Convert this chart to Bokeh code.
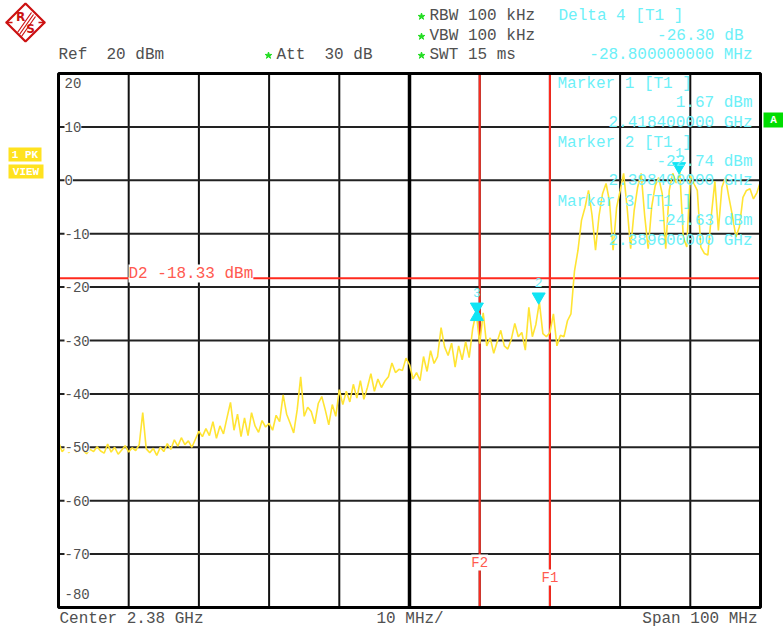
from bokeh.plotting import figure
from bokeh.models import Range1d, Label
from bokeh.core.properties import value
from bokeh.embed import file_html
from bokeh.resources import INLINE
import math

# ---------------- data ----------------
FREQ_START_MHZ = 2330.0
FREQ_STOP_MHZ = 2430.0
FREQ_STEP_MHZ = 0.5
REF_LEVEL_DBM = 20.0
BOTTOM_LEVEL_DBM = -80.0

LEVEL_2330 = [-49.0, -50.8, -50.2, -51.0, -49.6, -50.9, -49.8, -50.6, -51.2, -50.4,
              -50.8, -49.9, -50.7, -51.1, -49.4, -50.9, -50.0, -51.3, -50.5, -49.7]
LEVEL_2340 = [-50.9, -50.1, -50.6, -49.5, -43.5, -50.3, -51.0, -50.2, -51.5, -50.0,
              -50.8, -49.3, -50.4, -48.6, -49.8, -48.2, -49.5, -48.8, -50.0, -48.5]
LEVEL_2350 = [-47.0, -48.0, -46.5, -47.8, -45.2, -48.3, -46.0, -47.5, -44.5, -41.6,
              -46.8, -43.8, -48.0, -44.5, -47.8, -43.5, -46.0, -47.2, -45.0, -46.2]
LEVEL_2360 = [-45.5, -46.8, -44.0, -45.2, -40.2, -43.8, -45.5, -47.3, -43.0, -36.8,
              -44.2, -42.5, -43.3, -45.6, -41.8, -40.5, -43.0, -45.8, -42.0, -44.2]
LEVEL_2370 = [-39.2, -42.0, -39.5, -41.5, -38.2, -40.8, -37.5, -41.0, -38.8, -36.2,
              -39.5, -37.2, -38.8, -37.6, -36.8, -34.2, -36.0, -35.4, -35.6, -33.3]
LEVEL_2380 = [-34.5, -37.2, -36.0, -37.5, -33.0, -35.8, -31.9, -34.3, -33.0, -27.6,
              -31.2, -32.8, -30.5, -35.0, -31.0, -33.6, -30.2, -33.2, -27.8, -24.7]
LEVEL_2390 = [-30.6, -24.8, -31.0, -29.5, -32.4, -30.2, -28.1, -31.0, -31.6, -29.8,
              -26.8, -29.3, -28.5, -31.8, -23.8, -29.3, -27.0, -22.8, -28.7, -29.3]
LEVEL_2400 = [-28.5, -25.0, -31.0, -29.0, -29.3, -26.3, -25.0, -17.0, -13.1, -7.5,
              -5.1, -1.9, -6.5, -13.1, -6.6, -2.5, -0.6, -4.0, -13.1, -5.1]
LEVEL_2410 = [-2.0, 1.3, -5.1, -12.8, -5.7, -1.3, 1.3, -6.6, -12.8, -5.0,
              -1.0, 0.5, -2.5, -12.8, -1.9, 1.3, -0.5, 1.6, -10.6, -12.5]
LEVEL_2420 = [1.0, -0.6, -1.9, -12.5, -13.7, -14.0, -6.5, -0.2, -9.4, -1.3,
              0.5, -3.2, -6.6, -10.6, -8.7, -3.2, -1.9, -1.6, -3.5, -2.3, -0.2]

TRACE_LEVEL_DBM = (LEVEL_2330 + LEVEL_2340 + LEVEL_2350 + LEVEL_2360 + LEVEL_2370 +
                   LEVEL_2380 + LEVEL_2390 + LEVEL_2400 + LEVEL_2410 + LEVEL_2420)
TRACE_FREQ_MHZ = [FREQ_START_MHZ + FREQ_STEP_MHZ * i for i in range(len(TRACE_LEVEL_DBM))]

GRID_FREQ_MHZ = [2340, 2350, 2360, 2370, 2390, 2400, 2410, 2420]
CENTER_FREQ_MHZ = 2380
GRID_LEVEL_DBM = [10, 0, -10, -20, -30, -40, -50, -60, -70]
Y_TICK_LEVELS = [20, 10, 0, -10, -20, -30, -40, -50, -60, -70, -80]
Y_TICK_LABELS = ["20", "10", "0", "-10", "-20", "-30", "-40", "-50", "-60", "-70", "-80"]

MARKER_NAMES = ["1", "2", "3"]
MARKER_FREQ_MHZ = [2418.4, 2398.4, 2389.6]
MARKER_LEVEL_DBM = [1.67, -22.74, -24.63]
DELTA_FREQ_MHZ = [2389.6]
DELTA_LEVEL_DBM = [1.67 - 26.30]

DISPLAY_LINE_DBM = -18.33
FREQ_LINES_MHZ = [2390, 2400]
FREQ_LINE_NAMES = ["F2", "F1"]

# ---------------- layout (page pixels) ----------------
FIG_LEFT, FIG_TOP = 0, 0
FIG_W, FIG_H = 783, 631
FRAME_L, FRAME_R, FRAME_T, FRAME_B = 58, 760, 73, 607
PX_PER_MHZ = (FRAME_R - FRAME_L) / (FREQ_STOP_MHZ - FREQ_START_MHZ)
PX_PER_DB = (FRAME_B - FRAME_T) / (REF_LEVEL_DBM - BOTTOM_LEVEL_DBM)


def X(px):
    return FREQ_START_MHZ + (px - FRAME_L) / PX_PER_MHZ


def Y(py):
    return REF_LEVEL_DBM - (py - FRAME_T) / PX_PER_DB


p = figure(width=FIG_W, height=FIG_H, output_backend="svg", toolbar_location=None,
           x_range=Range1d(X(FIG_LEFT), X(FIG_LEFT + FIG_W)),
           y_range=Range1d(Y(FIG_TOP + FIG_H), Y(FIG_TOP)),
           x_axis_location=None, y_axis_location=None, min_border=0,
           outline_line_color=None, background_fill_color="white",
           border_fill_color="white")
p.grid.visible = False

MONO_NAME = "Liberation Mono"
MONO = value(MONO_NAME)
GRAY = "#505050"
CYAN_TXT = "#6cf0f8"
CYAN_MK = "#10e4f4"
RED = "#ff2a1e"
RED_TXT = "#ff5a50"
YELLOW = "#ffe433"
NBSP = "\u00a0"

# grid
p.segment(x0=GRID_FREQ_MHZ, y0=[BOTTOM_LEVEL_DBM] * len(GRID_FREQ_MHZ),
          x1=GRID_FREQ_MHZ, y1=[REF_LEVEL_DBM] * len(GRID_FREQ_MHZ),
          line_color="#111111", line_width=2)
p.segment(x0=[FREQ_START_MHZ] * len(GRID_LEVEL_DBM), y0=GRID_LEVEL_DBM,
          x1=[FREQ_STOP_MHZ] * len(GRID_LEVEL_DBM), y1=GRID_LEVEL_DBM,
          line_color="#222222", line_width=2)
p.segment(x0=[CENTER_FREQ_MHZ], y0=[BOTTOM_LEVEL_DBM], x1=[CENTER_FREQ_MHZ],
          y1=[REF_LEVEL_DBM], line_color="black", line_width=3.5)

# display line D2 and frequency lines
p.segment(x0=[FREQ_START_MHZ], y0=[DISPLAY_LINE_DBM], x1=[FREQ_STOP_MHZ],
          y1=[DISPLAY_LINE_DBM], line_color=RED, line_width=2)
p.segment(x0=FREQ_LINES_MHZ, y0=[BOTTOM_LEVEL_DBM] * 2, x1=FREQ_LINES_MHZ,
          y1=[REF_LEVEL_DBM] * 2, line_color=RED, line_width=2)

# y tick labels (inside, white background)
for lvl, lab in zip(Y_TICK_LEVELS, Y_TICK_LABELS):
    yy = lvl
    if lvl == REF_LEVEL_DBM:
        yy = lvl - 9 / PX_PER_DB
    elif lvl == BOTTOM_LEVEL_DBM:
        yy = lvl + 14 / PX_PER_DB
    p.add_layout(Label(x=X(64), y=yy, text=lab, text_font=MONO_NAME, text_font_size="14px",
                       text_color=GRAY, text_baseline="middle", text_align="left",
                       background_fill_color="white"))

# D2 label
p.add_layout(Label(x=X(128), y=Y(273), text="D2 -18.33 dBm", text_font=MONO_NAME,
                   text_font_size="16px", text_color=RED_TXT, text_baseline="middle",
                   background_fill_color="white"))
# F labels
p.add_layout(Label(x=FREQ_LINES_MHZ[0], y=Y(562), text=FREQ_LINE_NAMES[0], text_font=MONO_NAME,
                   text_font_size="14px", text_color=RED_TXT, text_baseline="middle",
                   text_align="center", background_fill_color="white"))
p.add_layout(Label(x=FREQ_LINES_MHZ[1], y=Y(577), text=FREQ_LINE_NAMES[1], text_font=MONO_NAME,
                   text_font_size="14px", text_color=RED_TXT, text_baseline="middle",
                   text_align="center", background_fill_color="white"))

# trace
p.line(TRACE_FREQ_MHZ, TRACE_LEVEL_DBM, line_color=YELLOW, line_width=1.6)

# markers
tri_off = 5 / PX_PER_DB
p.scatter(MARKER_FREQ_MHZ, [v + tri_off for v in MARKER_LEVEL_DBM], marker="inverted_triangle",
          size=13, fill_color=CYAN_MK, line_color=CYAN_MK)
p.scatter(DELTA_FREQ_MHZ, [v - tri_off for v in DELTA_LEVEL_DBM], marker="triangle",
          size=13, fill_color=CYAN_MK, line_color=CYAN_MK)
p.text(x=MARKER_FREQ_MHZ, y=[v + 19 / PX_PER_DB for v in MARKER_LEVEL_DBM], text=MARKER_NAMES,
       text_font=MONO, text_font_size="13px", text_color=CYAN_TXT, text_align="center",
       text_baseline="middle")

# frame
p.quad(left=[FREQ_START_MHZ], right=[FREQ_STOP_MHZ], bottom=[BOTTOM_LEVEL_DBM],
       top=[REF_LEVEL_DBM], fill_alpha=0, line_color="black", line_width=3)


def txt(xs, ys, texts, color, size="16px", align="left", style="normal", font=MONO):
    p.text(x=[X(v) for v in xs], y=[Y(v) for v in ys], text=texts, text_color=color,
           text_font=font, text_font_size=size, text_align=align,
           text_baseline="middle", text_font_style=style)


# header (gray)
txt([58, 276, 429, 429, 429], [54, 54, 15, 35, 54],
    ["Ref " + NBSP + "20 dBm", "Att " + NBSP + "30 dB", "RBW 100 kHz", "VBW 100 kHz",
     "SWT 15 ms"], GRAY)
p.scatter([X(268), X(421), X(421), X(421)], [Y(55), Y(16), Y(36), Y(55)], marker="star",
          size=7, fill_color="#22dd22", line_color="#22dd22")

# delta marker readout (cyan)
txt([558], [15], ["Delta 4 [T1 ]"], CYAN_TXT)
txt([743, 752], [35, 54], ["-26.30 dB", "-28.800000000 MHz"], CYAN_TXT, align="right")

# marker readouts inside the grid
txt([557, 557, 557], [83, 142, 201], ["Marker 1 [T1 ]", "Marker 2 [T1 ]", "Marker 3 [T1 ]"],
    CYAN_TXT)
txt([752] * 6, [102, 122, 161, 180, 220, 240],
    ["1.67 dBm", "2.418400000 GHz", "-22.74 dBm", "2.398400000 GHz",
     "-24.63 dBm", "2.389600000 GHz"], CYAN_TXT, align="right")

# bottom annotations
txt([59, 376], [618, 618], ["Center 2.38 GHz", "10 MHz/"], GRAY)
txt([757], [618], ["Span 100 MHz"], GRAY, align="right")

# left side trace info boxes
p.quad(left=[X(8), X(8)], right=[X(41), X(43)], top=[Y(147), Y(164)],
       bottom=[Y(161), Y(178)], fill_color="#ffe21f", line_color=None)
txt([24.5, 25.5], [154, 171], ["1 PK", "VIEW"], "white", size="11px", align="center",
    style="bold")

# "A" indicator box
p.quad(left=[X(763)], right=[X(783)], top=[Y(112)], bottom=[Y(127)], fill_color="#00dd00",
       line_color=None)
txt([773], [119.5], ["A"], "white", size="11px", align="center", style="bold")

# R&S logo
p.scatter([X(25)], [Y(22)], marker="square", angle=math.pi / 4, size=27,
          fill_color="white", line_color="#cc1111", line_width=2.2)
p.segment(x0=[X(5), X(38)], y0=[Y(22), Y(22)], x1=[X(12), X(45)], y1=[Y(22), Y(22)],
          line_color="#cc1111", line_width=1.5)
p.segment(x0=[X(17), X(19), X(21)], y0=[Y(32), Y(34), Y(36)],
          x1=[X(31), X(33), X(35)], y1=[Y(12), Y(14), Y(16)],
          line_color="#cc1111", line_width=1.2)
txt([20, 30], [16, 28], ["R", "S"], "#cc1111", size="12px", align="center", style="bold",
    font=value("DejaVu Sans"))

open("out.html", "w").write(file_html(p, INLINE))
